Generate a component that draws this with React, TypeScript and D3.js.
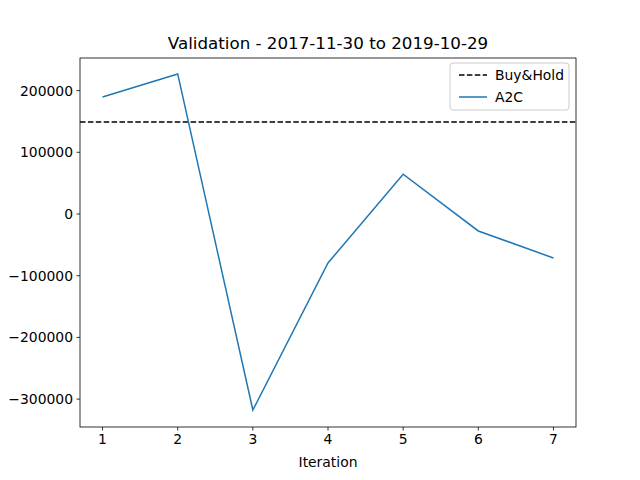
import React from "react";
import * as d3 from "d3";

const iterations = [1, 2, 3, 4, 5, 6, 7];
const a2cValues = [189600, 227000, -317700, -79400, 64500, -27500, -71300];
const buyHold = 149100;
const yTicks = [-300000, -200000, -100000, 0, 100000, 200000];
const title = "Validation - 2017-11-30 to 2019-10-29";

export default function App() {
  const L = 80, R = 576, T = 58, B = 427;
  const x = d3.scaleLinear().domain([0.7, 7.3]).range([L, R]);
  const y = d3.scaleLinear().domain([-345200, 252800]).range([B, T]);
  const line = d3.line<number>().x((_, i) => x(iterations[i])).y((d) => y(d));
  const font = "DejaVu Sans, sans-serif";
  return (
    <svg width={640} height={480} style={{ position: "absolute", left: 0, top: 0, background: "#fff" }} fontFamily={font}>
      <rect x={0} y={0} width={640} height={480} fill="#fff" />
      <text x={(L + R) / 2} y={49} textAnchor="middle" fontSize={16.7}>{title}</text>
      <line x1={L} x2={R} y1={y(buyHold)} y2={y(buyHold)} stroke="#000" strokeWidth={1.5} strokeDasharray="5.5,2.4" />
      <path d={line(a2cValues) || ""} fill="none" stroke="#1f77b4" strokeWidth={1.5} />
      <rect x={L} y={T} width={R - L} height={B - T} fill="none" stroke="#000" strokeWidth={0.8} />
      {iterations.map((t) => (
        <g key={t}>
          <line x1={x(t)} x2={x(t)} y1={B} y2={B + 3.5} stroke="#000" strokeWidth={0.8} />
          <text x={x(t)} y={B + 17} textAnchor="middle" fontSize={13.9}>{t}</text>
        </g>
      ))}
      {yTicks.map((t) => (
        <g key={t}>
          <line x1={L - 3.5} x2={L} y1={y(t)} y2={y(t)} stroke="#000" strokeWidth={0.8} />
          <text x={L - 7} y={y(t) + 5} textAnchor="end" fontSize={13.9}>{t < 0 ? "\u2212" + Math.abs(t) : t}</text>
        </g>
      ))}
      <text x={(L + R) / 2} y={467} textAnchor="middle" fontSize={13.9}>Iteration</text>
      <g>
        <rect x={450} y={63} width={119} height={47} rx={3} fill="#fff" fillOpacity={0.8} stroke="#ccc" strokeWidth={1} />
        <line x1={459} x2={487} y1={75} y2={75} stroke="#000" strokeWidth={1.5} strokeDasharray="5.5,2.4" />
        <text x={495} y={80} fontSize={13.9}>Buy&amp;Hold</text>
        <line x1={459} x2={487} y1={97} y2={97} stroke="#1f77b4" strokeWidth={1.5} />
        <text x={495} y={102} fontSize={13.9}>A2C</text>
      </g>
    </svg>
  );
}
